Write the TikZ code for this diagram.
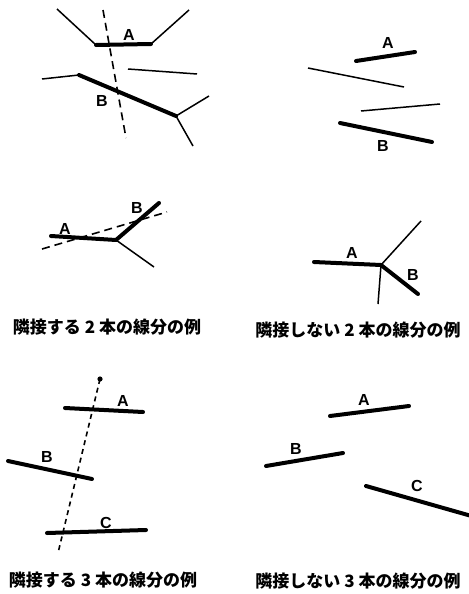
\documentclass[tikz,border=0pt]{standalone}
\usepackage{fontspec}
\setmainfont{Liberation Sans}
\newfontfamily\jpfont{Noto Sans CJK JP}
\usetikzlibrary{positioning}

\begin{document}
\begin{tikzpicture}[
  x=0.5pt, y=-0.5pt,
  seg/.style={line width=0.75pt},
  segA/.style={line width=2pt, line cap=round},
  probe/.style={line width=0.8pt, dash pattern=on 4pt off 2.5pt},
  lab/.style={font=\fontsize{8}{9}\selectfont\bfseries, inner sep=0pt},
  captxt/.style={font=\fontsize{8.5}{10}\selectfont\jpfont\bfseries, inner sep=0pt},
]
\useasboundingbox (0,0) rectangle (469,594);

% ---- Top left --------------------------------------------------------------
\coordinate (p1) at (57,9);   \coordinate (p2) at (96,45);
\coordinate (p3) at (151,44); \coordinate (p4) at (189,10);
\draw[seg] (p1) -- (p2);
\draw[segA] (p2) -- (p3);
\draw[seg] (p3) -- (p4);
\node[lab] (tlA) at (129,35) {A};
\coordinate (q1) at (42,79);  \coordinate (q2) at (79,75);
\coordinate (q3) at (176,116);
\draw[seg] (q1) -- (q2);
\draw[segA] (q2) -- (q3);
\draw[seg] (q3) -- (209,96);
\draw[seg] (q3) -- (193,146);
\node[lab] (tlB) at (102,101) {B};
\draw[seg] (128,69) -- (197,74);
\draw[probe] (103,10) -- (126,138);

% ---- Top right -------------------------------------------------------------
\draw[segA] (356,61) -- (415,52);
\node[lab] (trA) at (388,43) {A};
\draw[seg] (308,68) -- (404,87);
\draw[seg] (361,111) -- (440,104);
\draw[segA] (340,123) -- (432,142);
\node[lab] (trB) at (383,146) {B};

% ---- Middle left -----------------------------------------------------------
\coordinate (m1) at (116,240);
\draw[segA] (51,236) -- (m1);
\draw[segA] (m1) -- (159,203);
\draw[seg] (m1) -- (154,267);
\draw[probe] (42,249) -- (167,212);
\node[lab] (mlA) at (65,229) {A};
\node[lab] (mlB) at (137,208) {B};
\node[captxt] (mlcap) at (107,327) {隣接する 2 本の線分の例};

% ---- Middle right ----------------------------------------------------------
\coordinate (n1) at (381,265);
\draw[segA] (314,262) -- (n1);
\draw[seg] (n1) -- (421,221);
\draw[seg] (n1) -- (378,304);
\draw[segA] (n1) -- (418,294);
\node[lab] (mrA) at (352,253) {A};
\node[lab] (mrB) at (413,275) {B};
\node[captxt] (mrcap) at (358,330) {隣接しない 2 本の線分の例};

% ---- Bottom left -----------------------------------------------------------
\draw[segA] (65,408) -- (143,412);
\draw[segA] (8,461) -- (92,479);
\draw[segA] (47,533) -- (146,530);
\node[lab] (blA) at (123,401) {A};
\node[lab] (blB) at (47,457) {B};
\node[lab] (blC) at (106,523) {C};
\fill (100,379) circle (1.3pt);
\draw[line width=0.8pt, dash pattern=on 2.5pt off 2pt] (100,379) -- (58,553);
\node[captxt] (blcap) at (103,580) {隣接する 3 本の線分の例};

% ---- Bottom right ----------------------------------------------------------
\draw[segA] (330,416) -- (409,406);
\draw[segA] (266,466) -- (343,453);
\draw[segA] (366,486) -- (475,517);
\node[lab] (brA) at (364,400) {A};
\node[lab] (brB) at (296,449) {B};
\node[lab] (brC) at (417,486) {C};
\node[captxt] (brcap) at (358,581) {隣接しない 3 本の線分の例};

\end{tikzpicture}
\end{document}
